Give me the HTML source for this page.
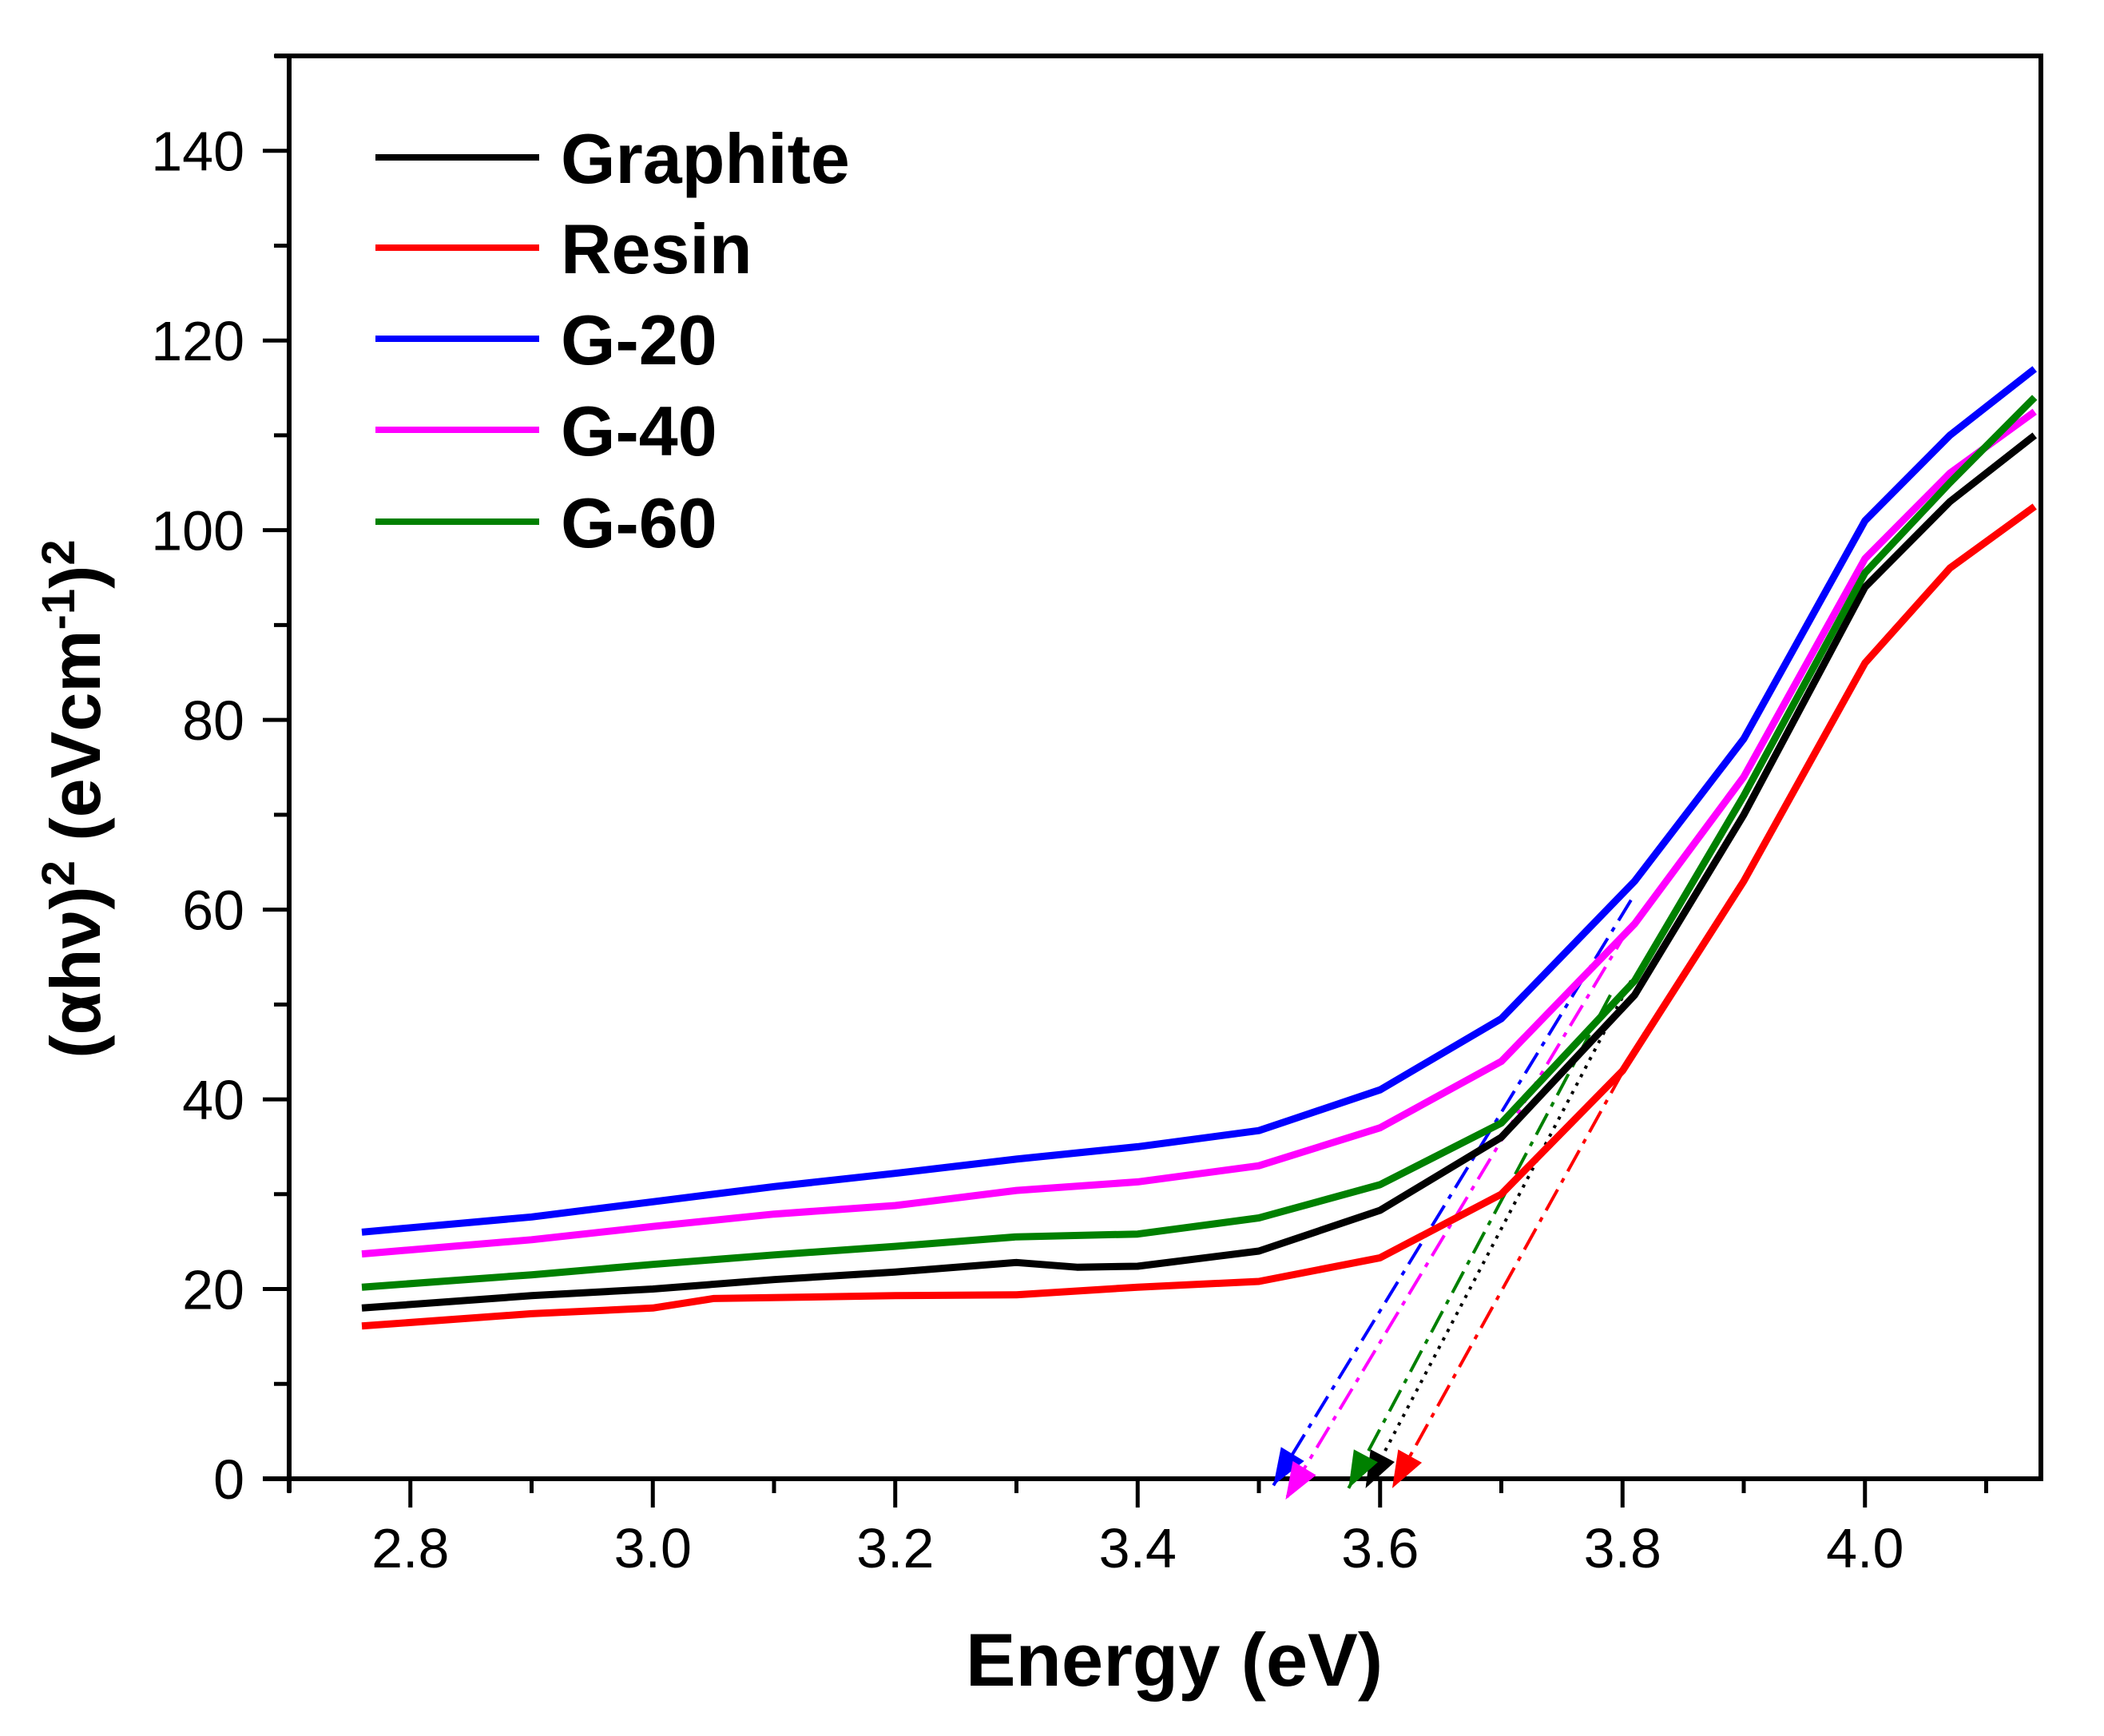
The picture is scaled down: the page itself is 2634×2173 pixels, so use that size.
<!DOCTYPE html>
<html><head><meta charset="utf-8"><style>
html,body{margin:0;padding:0;background:#fff;}
svg{display:block;font-family:"Liberation Sans",Arial,sans-serif;}
</style></head><body>
<svg id="chart" width="2634" height="2173" viewBox="0 0 2634 2173" xmlns="http://www.w3.org/2000/svg">
<g id="plot"></g>
</svg>
<script>
const categories = ["Graphite","Resin","G-20","G-40","G-60"];
const colors = ["#000000","#ff0000","#0000ff","#ff00ff","#008000"];
const xGraphite = [2.76,2.9,3.0,3.1,3.2,3.3,3.35,3.4,3.5,3.6,3.7,3.81,3.9,4.0,4.07,4.14];
const yGraphite = [18,19.3,20,21,21.8,22.8,22.3,22.4,24,28.3,36,51,70,94,103,110];
const xResin = [2.76,2.9,3.0,3.05,3.2,3.3,3.4,3.5,3.6,3.7,3.8,3.9,4.0,4.07,4.14];
const yResin = [16.1,17.4,18,19,19.3,19.4,20.2,20.8,23.3,30,43,63,86,96,102.5];
const xG20 = [2.76,2.9,3.0,3.1,3.2,3.3,3.4,3.5,3.6,3.7,3.81,3.9,4.0,4.07,4.14];
const yG20 = [26,27.6,29.2,30.8,32.2,33.7,35,36.7,41,48.5,63,78,101,110,117];
const xG40 = [2.76,2.9,3.0,3.1,3.2,3.3,3.4,3.5,3.6,3.7,3.81,3.9,4.0,4.07,4.14];
const yG40 = [23.7,25.2,26.6,27.9,28.8,30.4,31.3,33,37,44,58.5,74,97,106,112.5];
const xG60 = [2.76,2.9,3.0,3.1,3.2,3.3,3.4,3.5,3.6,3.7,3.81,3.9,4.0,4.07,4.14];
const yG60 = [20.2,21.5,22.6,23.6,24.5,25.5,25.8,27.5,31,37.5,52.5,72,95.5,105,114];
const tanGraphite = [3.807,52.5,3.588,-1];
const tanResin = [3.818,47,3.610,-1];
const tanG20 = [3.807,61,3.512,-0.7];
const tanG40 = [3.805,58,3.522,-2.2];
const tanG60 = [3.79,51,3.574,-1];
const xTicks = [2.8,3.0,3.2,3.4,3.6,3.8,4.0];
const xTickLabels = ["2.8","3.0","3.2","3.4","3.6","3.8","4.0"];
const yTicks = [0,20,40,60,80,100,120,140];
const yTickLabels = ["0","20","40","60","80","100","120","140"];

const L=362,R=2555,T=70,B=1851, XMIN=2.7, XMAX=2.7+(R-L)/1517.5, YMIN=0, YMAX=150;
const X=v=>L+(v-XMIN)/(XMAX-XMIN)*(R-L);
const Y=v=>B-(v-YMIN)/(YMAX-YMIN)*(B-T);
const NS="http://www.w3.org/2000/svg";
const g=document.getElementById('plot');
function mk(tag,attrs,parent){const e=document.createElementNS(NS,tag);for(const k in attrs)e.setAttribute(k,attrs[k]);(parent||g).appendChild(e);return e;}

let e;
e=mk('line',{x1:329,y1:B,x2:R+3,y2:B,stroke:'#000','stroke-width':6});


e=mk('line',{x1:L,y1:T-3,x2:L,y2:B+17,stroke:'#000','stroke-width':6});


e=mk('line',{x1:344,y1:T,x2:R+3,y2:T,stroke:'#000','stroke-width':6});


e=mk('line',{x1:R,y1:T-3,x2:R,y2:B+3,stroke:'#000','stroke-width':6});



for(let v=2.7;v<=XMAX+1e-9;v+=0.1){
  const major=xTicks.some(t=>Math.abs(t-v)<1e-6);
  e=mk('line',{x1:X(v),y1:B,x2:X(v),y2:B+(major?36:18),stroke:'#000','stroke-width':5});
  
  
}
xTicks.forEach((v,i)=>{
  e=mk('text',{x:X(v),y:1962,'font-size':70,'text-anchor':'middle'});
  e.textContent=xTickLabels[i];
  
  
});
for(let v=0;v<=150;v+=10){
  const major=yTicks.includes(v);
  e=mk('line',{x1:L,y1:Y(v),x2:L-(major?33:19),y2:Y(v),stroke:'#000','stroke-width':5});
  
  
}
yTicks.forEach((v,i)=>{
  e=mk('text',{x:306,y:Y(v)+25,'font-size':70,'text-anchor':'end'});
  e.textContent=yTickLabels[i];
  
  
});
e=mk('text',{x:1470,y:2110,'font-size':94,'font-weight':'bold','text-anchor':'middle'});
e.textContent='Energy (eV)';


e=mk('text',{x:0,y:0,'font-size':88,'font-weight':'bold','text-anchor':'middle',transform:'translate(125,1000) rotate(-90)'});
e.innerHTML='(αhν)<tspan dy="-32" font-size="58">2</tspan><tspan dy="32"> (eVcm</tspan><tspan dy="-32" font-size="58">-1</tspan><tspan dy="32">)</tspan><tspan dy="-32" font-size="58">2</tspan>';



const tans=[tanGraphite,tanResin,tanG20,tanG40,tanG60];
const dashes=["4,8","30,10,6,10","30,10,6,10","30,10,6,10","30,10,6,10"];
tans.forEach((t,i)=>{
  const x1=X(t[0]),y1=Y(t[1]),x2=X(t[2]),y2=Y(t[3]);
  e=mk('line',{x1:x1,y1:y1,x2:x2,y2:y2,stroke:colors[i],'stroke-width':4,'stroke-dasharray':dashes[i]});
  
  
  const dx=x2-x1,dy=y2-y1,len=Math.hypot(dx,dy),ux=dx/len,uy=dy/len,px=-uy,py=ux;
  const bx=x2-ux*46,by=y2-uy*46;
  e=mk('polygon',{points:`${x2},${y2} ${bx+px*17},${by+py*17} ${bx-px*17},${by-py*17}`,fill:colors[i]});
  
  
});

const xs=[xGraphite,xResin,xG20,xG40,xG60], ys=[yGraphite,yResin,yG20,yG40,yG60];
xs.forEach((xa,i)=>{
  const d=xa.map((v,j)=>(j?'L':'M')+X(v).toFixed(1)+','+Y(ys[i][j]).toFixed(1)).join(' ');
  e=mk('path',{d:d,fill:'none',stroke:colors[i],'stroke-width':9,'stroke-linejoin':'round'});
  
  
});

const legY=[197,310,424,538,653];
categories.forEach((c,i)=>{
  e=mk('line',{x1:470,y1:legY[i],x2:675,y2:legY[i],stroke:colors[i],'stroke-width':8});
  
  
  e=mk('text',{x:702,y:legY[i]+32,'font-size':88,'font-weight':'bold'});
  e.textContent=c;
  
  
});
</script>
</body></html>
